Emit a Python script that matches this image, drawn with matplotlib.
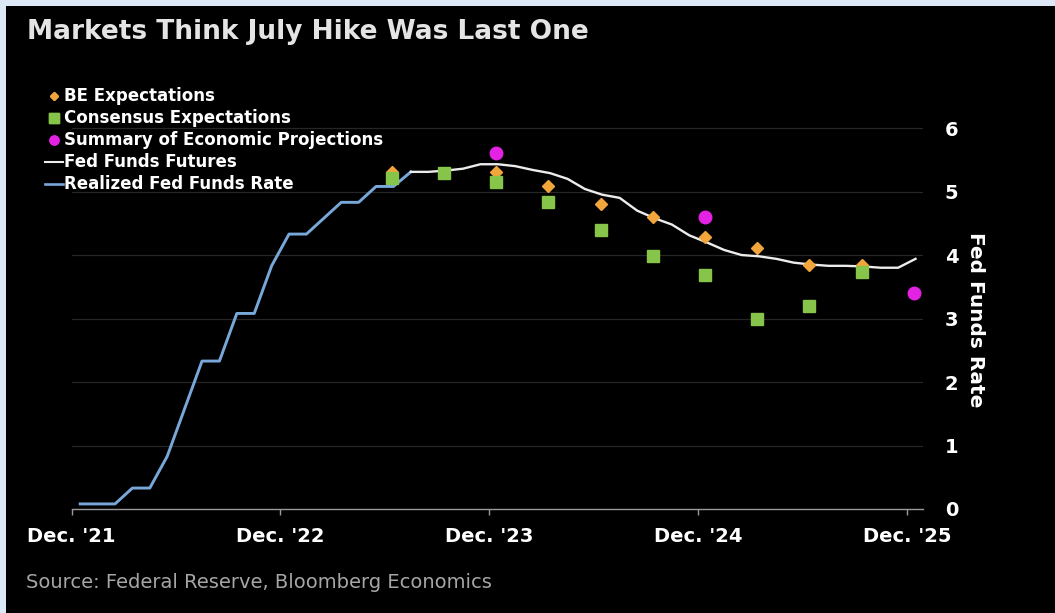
"""Fed funds rate path: realized, futures and forecasts."""

import matplotlib

matplotlib.use("Agg")

import matplotlib.pyplot as plt
import numpy as np
from matplotlib.lines import Line2D
from matplotlib.patches import Rectangle

# months after Dec. 2021 (monthly points sit mid-month, quarterly near month start)
realized_month = np.arange(0, 20) + 0.5
realized_rate = [0.08, 0.08, 0.08, 0.33, 0.33, 0.83, 1.58, 2.33, 2.33, 3.08,
                 3.08, 3.83, 4.33, 4.33, 4.58, 4.83, 4.83, 5.08, 5.08, 5.31]

futures_month = np.arange(19, 49) + 0.5
futures_rate = [5.31, 5.31, 5.33, 5.36, 5.43, 5.43, 5.40, 5.34, 5.29, 5.20,
                5.04, 4.95, 4.90, 4.70, 4.58, 4.48, 4.31, 4.20, 4.08, 4.00,
                3.98, 3.94, 3.88, 3.85, 3.83, 3.83, 3.82, 3.80, 3.80, 3.94]

be_month = np.array([18, 24, 27, 30, 33, 36, 39, 42, 45]) + 0.4
be_rate = [5.30, 5.31, 5.09, 4.80, 4.60, 4.28, 4.11, 3.84, 3.84]

consensus_month = np.array([18, 21, 24, 27, 30, 33, 36, 39, 42, 45]) + 0.4
consensus_rate = [5.22, 5.29, 5.15, 4.83, 4.39, 3.98, 3.69, 3.00, 3.20, 3.73]

sep_month = np.array([24, 36, 48]) + 0.4
sep_rate = [5.6, 4.6, 3.4]

tick_months = [0, 12, 24, 36, 48]
tick_labels = ["Dec. '21", "Dec. '22", "Dec. '23", "Dec. '24", "Dec. '25"]
y_ticks = [0, 1, 2, 3, 4, 5, 6]

BLUE = "#78a8da"
WHITE = "#ececec"
ORANGE = "#f2a53a"
GREEN = "#86c44a"
MAGENTA = "#e322e3"

W, H = 1055, 613
fig = plt.figure(figsize=(W / 100, H / 100), dpi=100, facecolor="#dce8f5")
fig.add_artist(Rectangle((6 / W, 0), 1 - 6 / W, 1 - 6 / H, transform=fig.transFigure,
                         facecolor="black", edgecolor="none", zorder=0))

ax = fig.add_axes([71.5 / W, 104 / H, 851 / W, 400 / H])
ax.set_facecolor("black")
ax.set_xlim(0, 48.9)
ax.set_ylim(0, 6.3)

for v in y_ticks[1:]:
    ax.axhline(v, color="#262626", linewidth=0.9, zorder=1)

ax.plot(realized_month, realized_rate, color=BLUE, linewidth=2.1, zorder=3)
ax.plot(futures_month, futures_rate, color=WHITE, linewidth=1.7, zorder=4)
ax.plot(be_month, be_rate, linestyle="none", marker="D", markersize=6.5,
        color=ORANGE, zorder=5)
ax.plot(consensus_month, consensus_rate, linestyle="none", marker="s", markersize=9,
        color=GREEN, zorder=6)
ax.plot(sep_month, sep_rate, linestyle="none", marker="o", markersize=9,
        color=MAGENTA, zorder=6)

for side in ["top", "left", "right"]:
    ax.spines[side].set_visible(False)
ax.spines["bottom"].set_color("#9a9a9a")
ax.spines["bottom"].set_linewidth(1.0)

ax.set_xticks(tick_months)
ax.set_xticklabels(tick_labels)
ax.tick_params(axis="x", colors="#9a9a9a", length=4, width=1, pad=9,
               labelcolor="white", labelsize=14)
for lab in ax.get_xticklabels():
    lab.set_fontweight("bold")

ax.yaxis.tick_right()
ax.set_yticks(y_ticks)
ax.set_yticklabels([str(v) for v in y_ticks])
ax.tick_params(axis="y", length=0, pad=16, labelcolor="white", labelsize=14)
for lab in ax.get_yticklabels():
    lab.set_fontweight("bold")

fig.text(975 / W, 1 - 320 / H, "Fed Funds Rate", rotation=270, ha="center",
         va="center", color="white", fontsize=14.5, fontweight="bold")

fig.text(27 / W, 1 - 32 / H, "Markets Think July Hike Was Last One", ha="left",
         va="center", color="#e4e4e4", fontsize=19, fontweight="bold")

fig.text(26 / W, 1 - 583 / H, "Source: Federal Reserve, Bloomberg Economics",
         ha="left", va="center", color="#a6a6a6", fontsize=14)

# legend, drawn by hand so the small handles sit tight against the text
legend_items = [
    ("BE Expectations", dict(marker="D", markersize=4.5, color=ORANGE, linestyle="none")),
    ("Consensus Expectations", dict(marker="s", markersize=6.5, color=GREEN, linestyle="none")),
    ("Summary of Economic Projections", dict(marker="o", markersize=6.5, color=MAGENTA, linestyle="none")),
    ("Fed Funds Futures", dict(color=WHITE, linewidth=1.5)),
    ("Realized Fed Funds Rate", dict(color=BLUE, linewidth=1.9)),
]
for i, (label, style) in enumerate(legend_items):
    y = 1 - (96 + 22 * i) / H
    if style.get("linestyle") == "none":
        xs = [54 / W]
    else:
        xs = [45 / W, 63 / W]
    fig.add_artist(Line2D(xs, [y, y], transform=fig.transFigure, **style))
    fig.text(64 / W, y, label, ha="left", va="center", color="white",
             fontsize=12, fontweight="bold")

fig.savefig("out.png", dpi=100, facecolor=fig.get_facecolor())
plt.close(fig)
